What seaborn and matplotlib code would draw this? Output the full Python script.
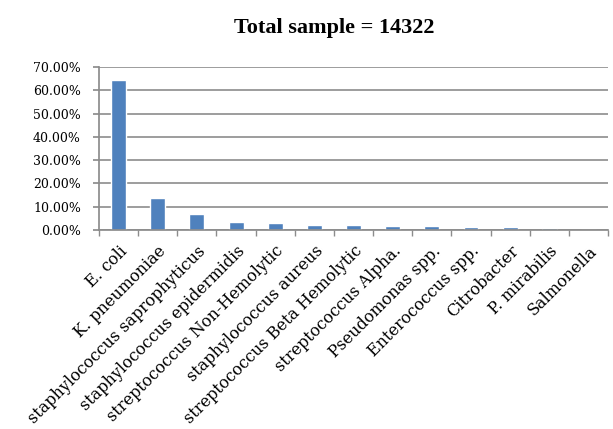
import numpy as np
import pandas as pd
import matplotlib
matplotlib.use("Agg")
import matplotlib.pyplot as plt
import seaborn as sns
from matplotlib.ticker import PercentFormatter, FixedLocator

organisms = ["E. coli", "K. pneumoniae", "staphylococcus saprophyticus",
             "staphylococcus epidermidis", "streptococcus Non-Hemolytic",
             "staphylococcus aureus", "streptococcus Beta Hemolytic",
             "streptococcus Alpha.", "Pseudomonas spp.", "Enterococcus spp.",
             "Citrobacter", "P. mirabilis", "Salmonella"]
share = [0.643, 0.139, 0.069, 0.036, 0.031, 0.021, 0.021,
         0.017, 0.017, 0.013, 0.013, 0.008, 0.001]
total_n = 14322

sns.set_theme(style="white")
plt.rcParams["font.family"] = ["DejaVu Serif"]
plt.rcParams["text.color"] = "black"
plt.rcParams["xtick.labelcolor"] = "black"
plt.rcParams["ytick.labelcolor"] = "black"

df = pd.DataFrame({"organism": organisms, "share": share})

fig = plt.figure(figsize=(6.13, 4.29), dpi=100)
ax = fig.add_axes([0.1615, 0.4639, 0.8305, 0.3799])

sns.barplot(data=df, x="organism", y="share", color="#4F81BD",
            saturation=1, width=0.38, ax=ax)

ax.set_ylim(0, 0.7)
ax.set_xlim(-0.5, len(organisms) - 0.5)
ax.set_yticks(np.arange(0, 0.71, 0.1))
ax.yaxis.set_major_formatter(PercentFormatter(1.0, decimals=2))
ax.yaxis.grid(True, color="#8c8c8c", linewidth=1.2)
ax.set_axisbelow(True)

for side in ["top", "right"]:
    ax.spines[side].set_visible(False)
ax.spines["left"].set_color("#8c8c8c")
ax.spines["bottom"].set_color("#8c8c8c")

ax.tick_params(axis="y", which="major", left=True, length=4, color="#8c8c8c",
               labelsize=9, pad=9)
ax.tick_params(axis="x", which="major", bottom=False, labelsize=11.5, pad=3)
ax.xaxis.set_minor_locator(FixedLocator(np.arange(-0.5, len(organisms), 1)))
ax.tick_params(axis="x", which="minor", bottom=True, length=4, color="#8c8c8c")
plt.setp(ax.get_xticklabels(), rotation=45, ha="right", rotation_mode="anchor")

ax.set_xlabel("")
ax.set_ylabel("")
fig.text(0.545, 0.935, f"Total sample = {total_n}", ha="center", va="center",
         fontsize=16, fontweight="bold", family="Liberation Serif")

fig.savefig("out.png", dpi=100, facecolor="white")
